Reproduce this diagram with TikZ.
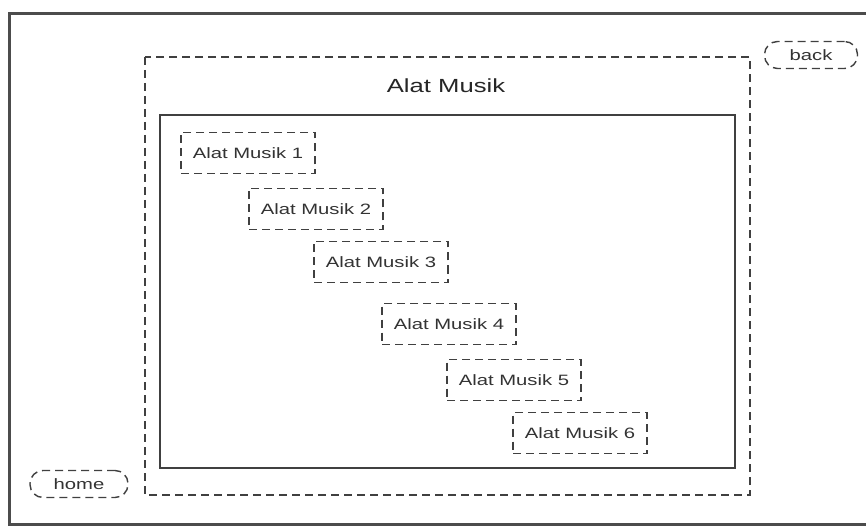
\documentclass[tikz,border=0pt]{standalone}
\usepackage{graphicx}
\usepackage{fontspec}
\setmainfont{Liberation Sans}
\newcommand{\wtext}[1]{\scalebox{1.35}[1]{#1}}
\begin{document}
\begin{tikzpicture}[x=1pt,y=-1pt,
  dbox/.style={draw=black!75, line width=1.4pt, dash pattern=on 8pt off 5pt},
  itembox/.style={dbox, rectangle, minimum width=134pt, minimum height=41pt, inner sep=0pt, font=\fontsize{15}{15}\selectfont, text=black!80},
  navbox/.style={dbox, rounded corners=13pt, minimum height=27pt, inner sep=0pt, font=\fontsize{15}{15}\selectfont, text=black!80}]
\useasboundingbox (0,0) rectangle (866,526);
\clip (0,0) rectangle (866,526);
\fill[white] (0,0) rectangle (866,526);
% outer frame
\draw[black!70, line width=3pt] (9,14) rectangle (890,524);
% dashed page area
\draw[dbox] (145,57) rectangle (750,495);
\node[font=\fontsize{19}{19}\selectfont, text=black!85] (title) at (446,86) {\wtext{Alat Musik}};
% inner content box
\draw[black!75, line width=1.6pt] (160,115) rectangle (735,468);
\node[itembox] (m1) at (248,153) {\wtext{Alat Musik 1}\hspace{5pt}};
\node[itembox] (m2) at (316,209) {\wtext{Alat Musik 2}\hspace{5pt}};
\node[itembox] (m3) at (381,262) {\wtext{Alat Musik 3}\hspace{5pt}};
\node[itembox] (m4) at (449,324) {\wtext{Alat Musik 4}\hspace{5pt}};
\node[itembox] (m5) at (514,380) {\wtext{Alat Musik 5}\hspace{5pt}};
\node[itembox] (m6) at (580,433) {\wtext{Alat Musik 6}\hspace{5pt}};
\node[navbox, minimum width=93pt] (back) at (811,55) {\wtext{back}};
\node[navbox, minimum width=98pt] (home) at (79,484) {\wtext{home}};
\end{tikzpicture}
\end{document}
